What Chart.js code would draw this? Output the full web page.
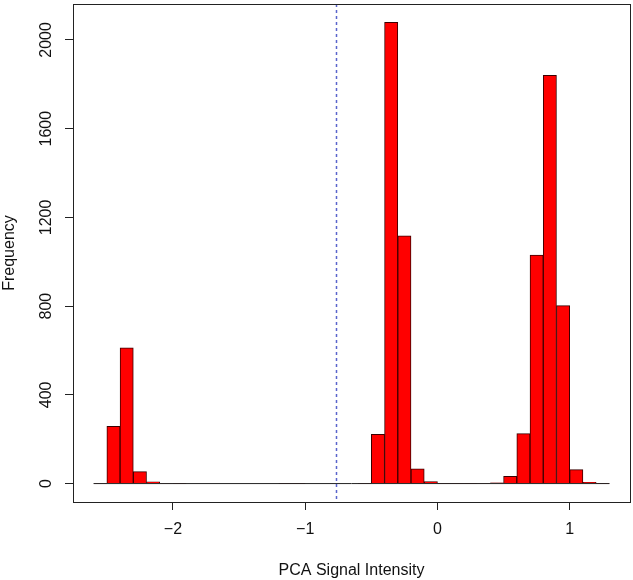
<!DOCTYPE html>
<html>
<head>
<meta charset="utf-8">
<script src="https://cdn.jsdelivr.net/npm/chart.js@4/dist/chart.umd.min.js"></script>
<style>
  body { margin: 0; background: #fff; }
  #wrap { width: 633px; height: 580px; }
</style>
</head>
<body>
<div id="wrap"><canvas id="hist"></canvas></div>
<script>
// histogram bins (width 0.1), left edges
var binStarts = [-2.6, -2.5, -2.4, -2.3, -2.2, -2.1, -2.0, -1.9, -1.8, -1.7,
                 -1.6, -1.5, -1.4, -1.3, -1.2, -1.1, -1.0, -0.9, -0.8, -0.7,
                 -0.6, -0.5, -0.4, -0.3, -0.2, -0.1, 0.0, 0.1, 0.2, 0.3,
                 0.4, 0.5, 0.6, 0.7, 0.8, 0.9, 1.0, 1.1, 1.2];
var counts = [2, 258, 612, 54, 8, 2, 1, 0, 0, 0,
              0, 0, 0, 0, 1, 1, 0, 0, 0, 0,
              1, 222, 2079, 1117, 66, 9, 1, 1, 1, 2,
              3, 33, 225, 1030, 1840, 802, 63, 6, 1];
var binWidth = 0.1;
var xTicks = [-2, -1, 0, 1];
var yTicks = [0, 400, 800, 1200, 1600, 2000];
var cutoff = -0.766;

var ink = "#222";
var font = { family: "'Liberation Sans', Arial, sans-serif", size: 16 };

var barData = [];
for (var i = 0; i < binStarts.length; i++) {
  barData.push({ x: binStarts[i] + binWidth / 2, y: counts[i] });
}
var lastEdge = binStarts[binStarts.length - 1] + binWidth;

// frame + cutoff line
var extras = {
  id: 'extras',
  afterDatasetsDraw: function(chart) {
    var ctx = chart.ctx, a = chart.chartArea;
    var px = Math.round(chart.scales.x.getPixelForValue(cutoff)) + 0.5;
    ctx.save();
    ctx.strokeStyle = "#5a64cc";
    ctx.lineWidth = 1.5;
    ctx.setLineDash([3, 3]);
    ctx.beginPath();
    ctx.moveTo(px, a.top);
    ctx.lineTo(px, a.bottom);
    ctx.stroke();
    ctx.setLineDash([]);
    ctx.strokeStyle = ink;
    ctx.lineWidth = 1;
    ctx.strokeRect(Math.round(a.left) + 0.5, Math.round(a.top) + 0.5,
                   Math.round(a.right - a.left), Math.round(a.bottom - a.top));
    ctx.restore();
  }
};

new Chart(document.getElementById('hist').getContext('2d'), {
  type: 'bar',
  data: {
    datasets: [{
      type: 'line',
      data: [{ x: binStarts[0], y: 0 }, { x: lastEdge, y: 0 }],
      borderColor: ink,
      borderWidth: 1,
      pointRadius: 0
    }, {
      data: barData,
      backgroundColor: "#ff0000",
      borderColor: "#3a0000",
      borderWidth: 1,
      barPercentage: 1,
      categoryPercentage: 1
    }]
  },
  options: {
    responsive: true,
    maintainAspectRatio: false,
    animation: false,
    layout: { padding: { left: 0, right: 3, top: 4, bottom: 0 } },
    plugins: { legend: { display: false }, tooltip: { enabled: false } },
    scales: {
      x: {
        type: 'linear',
        offset: false,
        min: -2.756,
        max: 1.456,
        afterBuildTicks: function(s) { s.ticks = xTicks.map(function(v) { return { value: v }; }); },
        afterFit: function(s) { s.height = 78; s.paddingLeft = 0; s.paddingRight = 0; },
        grid: { offset: false, drawOnChartArea: false, drawTicks: true, tickLength: 8, color: ink },
        border: { display: true, color: ink },
        ticks: {
          font: font, color: "#111", padding: 10, maxRotation: 0,
          callback: function(v) { return String(v).replace('-', '\u2212'); }
        },
        title: { display: true, text: 'PCA Signal Intensity', font: font, color: "#111", padding: 0 }
      },
      y: {
        min: -83,
        max: 2162,
        afterBuildTicks: function(s) { s.ticks = yTicks.map(function(v) { return { value: v }; }); },
        afterFit: function(s) { s.width = 73; s.paddingTop = 0; s.paddingBottom = 0; },
        grid: { drawOnChartArea: false, drawTicks: true, tickLength: 8, color: ink },
        border: { display: true, color: ink },
        ticks: {
          font: font, color: "#111", padding: 1, minRotation: 90, maxRotation: 90, crossAlign: 'center',
          callback: function(v) { return String(v); }
        },
        title: { display: true, text: 'Frequency', font: font, color: "#111", padding: 0 }
      }
    }
  },
  plugins: [extras]
});
</script>
</body>
</html>
